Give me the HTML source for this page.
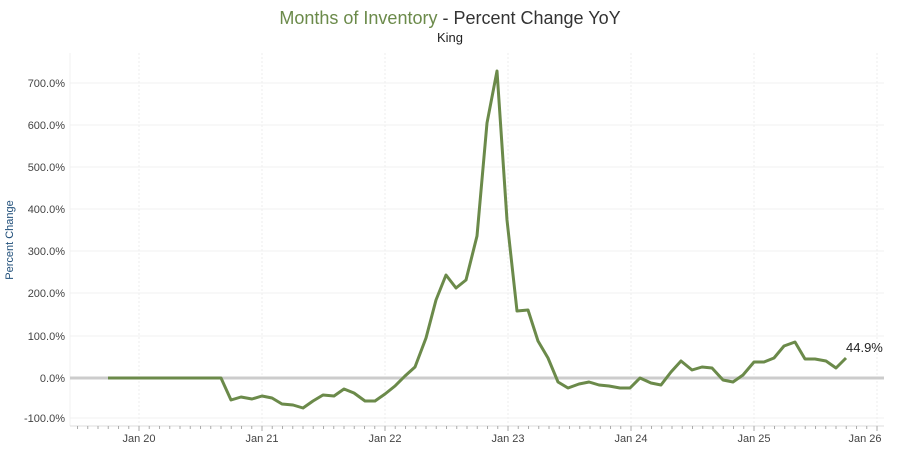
<!DOCTYPE html>
<html><head><meta charset="utf-8"><style>
body{margin:0;background:#fff;}
svg{display:block;font-family:"Liberation Sans",Arial,sans-serif;}
</style></head><body>
<svg width="901" height="462" viewBox="0 0 901 462" xmlns="http://www.w3.org/2000/svg">
<defs>
<pattern id="tk" x="77" y="426" width="10.25" height="4" patternUnits="userSpaceOnUse">
<rect x="0" y="0" width="1" height="3" fill="#aaa"/>
</pattern>
</defs>
<rect width="901" height="462" fill="#fff"/>
<text x="450" y="24" text-anchor="middle" font-size="18"><tspan fill="#6b8a4a">Months of Inventory</tspan><tspan fill="#333"> - Percent Change YoY</tspan></text>
<text x="450" y="42" text-anchor="middle" font-size="13" fill="#222">King</text>
<text transform="translate(13,240) rotate(-90)" text-anchor="middle" font-size="11" fill="#1f4e79">Percent Change</text>
<g stroke="#f0f0f0" stroke-width="1">
<line x1="70" y1="83" x2="884" y2="83"/><line x1="70" y1="125" x2="884" y2="125"/>
<line x1="70" y1="167" x2="884" y2="167"/><line x1="70" y1="209" x2="884" y2="209"/>
<line x1="70" y1="251" x2="884" y2="251"/><line x1="70" y1="293" x2="884" y2="293"/>
<line x1="70" y1="336" x2="884" y2="336"/><line x1="70" y1="418" x2="884" y2="418"/>
<line x1="70" y1="53" x2="70" y2="426"/>
</g>
<g stroke="#eee" stroke-width="1" stroke-dasharray="2,2">
<line x1="139" y1="53" x2="139" y2="426"/><line x1="262" y1="53" x2="262" y2="426"/>
<line x1="385" y1="53" x2="385" y2="426"/><line x1="508" y1="53" x2="508" y2="426"/>
<line x1="631" y1="53" x2="631" y2="426"/><line x1="754" y1="53" x2="754" y2="426"/>
<line x1="877" y1="53" x2="877" y2="426"/>
</g>
<line x1="70" y1="426" x2="884" y2="426" stroke="#ddd"/>
<rect x="77" y="426" width="802" height="3" fill="url(#tk)"/>
<line x1="70" y1="378" x2="884" y2="378" stroke="#ccc" stroke-width="3"/>
<g font-size="11" fill="#444" text-anchor="end">
<text x="65" y="87">700.0%</text><text x="65" y="129">600.0%</text>
<text x="65" y="171">500.0%</text><text x="65" y="213">400.0%</text>
<text x="65" y="255">300.0%</text><text x="65" y="297">200.0%</text>
<text x="65" y="340">100.0%</text><text x="65" y="382">0.0%</text>
<text x="65" y="422">-100.0%</text>
</g>
<g font-size="11" fill="#444" text-anchor="middle">
<text x="139" y="442">Jan 20</text><text x="262" y="442">Jan 21</text>
<text x="385" y="442">Jan 22</text><text x="508" y="442">Jan 23</text>
<text x="631" y="442">Jan 24</text><text x="754" y="442">Jan 25</text>
<text x="865" y="442">Jan 26</text>
</g>
<g stroke="#aaa" stroke-width="1">
<line x1="139" y1="426" x2="139" y2="431"/><line x1="262" y1="426" x2="262" y2="431"/>
<line x1="385" y1="426" x2="385" y2="431"/><line x1="508" y1="426" x2="508" y2="431"/><line x1="631" y1="426" x2="631" y2="431"/><line x1="754" y1="426" x2="754" y2="431"/><line x1="877" y1="426" x2="877" y2="431"/>
</g>
<polyline fill="none" stroke="#6b8a4a" stroke-width="3" stroke-linejoin="round" points="108,378 221,378 231,400 241,397 252,399 262,396 272,398 282,404 293,405 303,408 313,401 323,395 334,396 344,389 354,393 365,401 375,401 385,394 395,386 405,376 415,367 426,338 436,300 446,275 456,288 466,280 477,236 487,123 497,71 507,220 517,311 528,310 538,341 548,358 558,382 568,388 579,384 589,382 599,385 609,386 620,388 630,388 640,378 651,383 661,385 671,372 681,361 692,370 702,367 712,368 723,380 733,382 743,375 754,362 764,362 774,358 784,346 795,342 805,359 815,359 826,361 836,368 846,358"/>
<text x="846" y="352" font-size="13" fill="#222">44.9%</text>
</svg>
</body></html>
